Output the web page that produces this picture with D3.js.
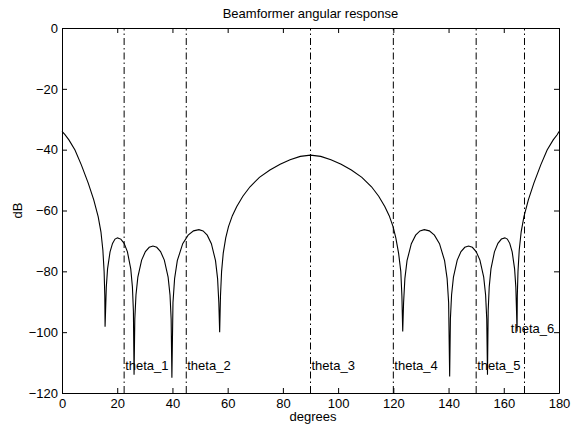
<!DOCTYPE html>
<html lang="en">
<head>
  <meta charset="UTF-8">
  <title>Beamformer angular response</title>
  <style>
    body { margin: 0; background: white; }
    svg { display: block; font-family: "Liberation Sans", Arial, sans-serif; }
    .tick text { font-size: 13px; fill: black; }
    .theta-label { font-size: 13px; }
  </style>
</head>
<body>
  <svg width="579" height="425"></svg>
  <script src="https://d3js.org/d3.v7.min.js"></script>
  <script>

// response, degrees vs dB
const degrees = [
  0, 1, 2.5, 4.7, 7, 9.5, 11.5, 13.1, 14.1, 14.8, 15.25, 15.5, 15.6,
  15.78, 16.05, 16.5, 17.4, 18.3, 19.2, 20.1, 21.3, 22.5, 23.7, 24.9, 25.5, 25.86, 26.1,
  26.37, 26.79, 27.47, 28.84, 30.21, 31.58, 32.95, 34.32, 35.69, 37.06, 38.43, 39.12, 39.53, 39.8,
  40.19, 40.78, 41.76, 43.72, 45.68, 47.64, 49.6, 51.1, 52.6, 54.1, 55.6, 56.35, 56.8, 57.1,
  57.4, 57.8, 58.4, 59.3, 60.3, 61.7, 63.3, 65.5, 68.1, 71.5, 75.3, 79, 82.6, 86.3, 90,
  93.7, 97.4, 101.1, 104.8, 108.6, 112.1, 114.7, 116.9, 118.5, 119.9, 120.9, 121.9, 122.7, 123.1, 123.4,
  123.71, 124.18, 124.96, 126.52, 128.08, 129.64, 131.2, 133.04, 134.88, 136.72, 138.56, 139.48, 140.03, 140.4,
  140.67, 141.09, 141.77, 143.14, 144.51, 145.88, 147.25, 148.62, 149.99, 151.36, 152.73, 153.42, 153.83, 154.1,
  154.35, 154.73, 155.36, 156.62, 157.88, 159.14, 160.4, 161.28, 162.16, 163.04, 163.92, 164.36, 164.62, 164.8,
  164.9, 165.15, 165.6, 166.3, 167.3, 168.9, 170.9, 173.4, 175.7, 177.9, 179.4, 180
];
const responseDb = [
  -34, -35, -36.8, -40.1, -45, -51, -56.5, -62, -67, -73, -80, -88, -98.2,
  -93, -85.1, -79.2, -73.6, -70.8, -69.4, -69, -69.4, -70.8, -73.6, -79.2, -85.1, -93, -114,
  -95.7, -87.8, -81.9, -76.3, -73.5, -72.1, -71.7, -72.1, -73.5, -76.3, -81.9, -87.8, -95.7, -115,
  -90.3, -82.4, -76.5, -70.9, -68.1, -66.7, -66.3, -66.7, -68.1, -70.9, -76.5, -82.4, -90.3, -100,
  -88, -80, -74, -69, -65.3, -61.7, -58.7, -55.3, -52.2, -49.1, -46.7, -44.8, -43.3, -42.2, -41.8,
  -42.2, -43.3, -44.8, -46.7, -49.1, -52.2, -55.3, -58.7, -61.7, -65.3, -69, -74, -80, -88, -99.8,
  -90.3, -82.4, -76.5, -70.9, -68.1, -66.7, -66.3, -66.7, -68.1, -70.9, -76.5, -82.4, -90.3, -114.6,
  -95.7, -87.8, -81.9, -76.3, -73.5, -72.1, -71.7, -72.1, -73.5, -76.3, -81.9, -87.8, -95.7, -114,
  -93, -85.1, -79.2, -73.6, -70.8, -69.4, -69, -69.4, -70.8, -73.6, -79.2, -85.1, -93, -99.8,
  -88, -80, -73, -67, -62, -56.5, -51, -45, -40.1, -36.8, -35, -34
];

// interference directions and where their labels sit
const thetaAngles = [22.5, 45, 90, 120, 150, 167.5];
const thetaNames = ["theta_1", "theta_2", "theta_3", "theta_4", "theta_5", "theta_6"];
const labelDeg = [22.5, 45, 90, 120, 150, 162.2];
const labelDb = [-110.8, -110.8, -110.8, -110.8, -110.8, -98.7];

const xTicks = [0, 20, 40, 60, 80, 100, 120, 140, 160, 180];
const yTicks = [0, -20, -40, -60, -80, -100, -120];

const margin = {top: 28, right: 20, bottom: 32, left: 62};
const width = 579, height = 425;

const svg = d3.select("svg");

const x = d3.scaleLinear().domain([0, 180]).range([margin.left, width - margin.right]);
const y = d3.scaleLinear().domain([-120, 0]).range([height - margin.bottom, margin.top]);

// dash-dot lines at each theta
svg.append("g")
  .selectAll("line")
  .data(thetaAngles)
  .join("line")
  .attr("x1", d => x(d)).attr("x2", d => x(d))
  .attr("y1", y(-120)).attr("y2", y(0))
  .attr("stroke", "black")
  .attr("stroke-width", 1)
  .attr("stroke-dasharray", "7,3,1.5,3");

const line = d3.line()
  .x(d => x(d[0]))
  .y(d => y(d[1]));

svg.append("path")
  .datum(degrees.map((d, i) => [d, responseDb[i]]))
  .attr("fill", "none")
  .attr("stroke", "black")
  .attr("stroke-width", 1.1)
  .attr("d", line);

svg.append("g")
  .selectAll("text")
  .data(thetaNames)
  .join("text")
  .attr("class", "theta-label")
  .attr("x", (d, i) => x(labelDeg[i]) + 1)
  .attr("y", (d, i) => y(labelDb[i]))
  .attr("dy", "0.35em")
  .text(d => d);

// box axes, ticks pointing inward
const fmt = d3.format("d");
const tickLen = 5;

svg.append("g")
  .attr("transform", `translate(0,${height - margin.bottom})`)
  .call(d3.axisBottom(x).tickValues(xTicks).tickFormat(fmt).tickSizeInner(-tickLen).tickSizeOuter(0).tickPadding(6));

svg.append("g")
  .attr("transform", `translate(0,${margin.top})`)
  .call(d3.axisTop(x).tickValues(xTicks).tickFormat("").tickSizeInner(-tickLen).tickSizeOuter(0));

svg.append("g")
  .attr("transform", `translate(${margin.left},0)`)
  .call(d3.axisLeft(y).tickValues(yTicks).tickFormat(fmt).tickSizeInner(-tickLen).tickSizeOuter(0).tickPadding(4));

svg.append("g")
  .attr("transform", `translate(${width - margin.right},0)`)
  .call(d3.axisRight(y).tickValues(yTicks).tickFormat("").tickSizeInner(-tickLen).tickSizeOuter(0));

svg.selectAll(".domain").attr("stroke", "black");
svg.selectAll(".tick line").attr("stroke", "black");
svg.selectAll(".tick text").attr("font-family", null);

svg.append("text")
  .attr("x", (margin.left + width - margin.right) / 2)
  .attr("y", 18)
  .attr("text-anchor", "middle")
  .attr("font-size", "13px")
  .text("Beamformer angular response");

svg.append("text")
  .attr("x", 313)
  .attr("y", 421)
  .attr("text-anchor", "middle")
  .attr("font-size", "13px")
  .text("degrees");

svg.append("text")
  .attr("transform", `translate(22,${(margin.top + height - margin.bottom) / 2}) rotate(-90)`)
  .attr("text-anchor", "middle")
  .attr("font-size", "13px")
  .text("dB");
  </script>
</body>
</html>
